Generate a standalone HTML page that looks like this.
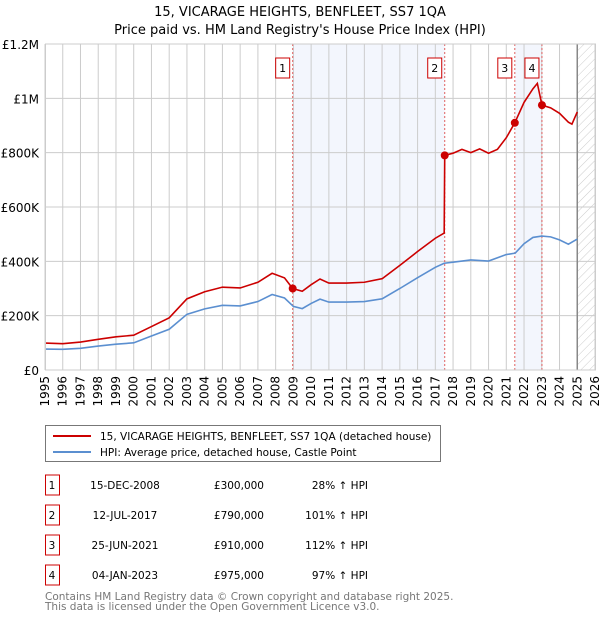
<!DOCTYPE html>
<html><head><meta charset="utf-8"><style>
body{margin:0;background:#fff;font-family:"DejaVu Sans","Liberation Sans",sans-serif}
svg text{font-family:"DejaVu Sans","Liberation Sans",sans-serif}
</style></head><body>
<svg id="c" width="600" height="620" xmlns="http://www.w3.org/2000/svg">
<defs><pattern id="hatch" width="6" height="6" patternUnits="userSpaceOnUse" patternTransform="rotate(45)"><line x1="0" y1="0" x2="0" y2="6" stroke="#ccc" stroke-width="1"/></pattern></defs>
<text x="300" y="16" text-anchor="middle" font-size="13">15, VICARAGE HEIGHTS, BENFLEET, SS7 1QA</text>
<text x="300" y="34" text-anchor="middle" font-size="13">Price paid vs. HM Land Registry's House Price Index (HPI)</text>
<g id="plot"></g>
<g>
<rect x="45.5" y="425.5" width="395" height="36" fill="#fff" stroke="#777"/>
<line x1="53" y1="436" x2="91" y2="436" stroke="#cc0000" stroke-width="2"/>
<text x="100" y="440" font-size="10.5">15, VICARAGE HEIGHTS, BENFLEET, SS7 1QA (detached house)</text>
<line x1="53" y1="452" x2="91" y2="452" stroke="#5b8fd0" stroke-width="2"/>
<text x="100" y="456" font-size="10.5">HPI: Average price, detached house, Castle Point</text>
</g>
<g id="table" font-size="10.5"></g>
<text x="45" y="600" font-size="10.5" fill="#777">Contains HM Land Registry data © Crown copyright and database right 2025.</text>
<text x="45" y="610" font-size="10.5" fill="#777">This data is licensed under the Open Government Licence v3.0.</text>
</svg>
<script>
const hpiYears=[1995,1996,1997,1998,1999,2000,2001,2002,2003,2004,2005,2006,2007,2007.8,2008.5,2009,2009.5,2010,2010.5,2011,2012,2013,2014,2015,2016,2017,2017.5,2018,2019,2020,2021,2021.5,2022,2022.5,2023,2023.5,2024,2024.5,2025];
const hpiValues=[77,76,80,88,95,100,125,150,205,225,238,236,252,278,265,234,226,245,261,250,250,252,262,300,340,378,393,397,405,401,425,430,465,488,493,490,479,463,482];
const redYears=[1995,1996,1997,1998,1999,2000,2001,2002,2003,2004,2005,2006,2007,2007.8,2008.5,2008.96,2009.5,2010,2010.5,2011,2012,2013,2014,2015,2016,2017,2017.5,2017.53,2018,2018.5,2019,2019.5,2020,2020.5,2021,2021.48,2022,2022.5,2022.75,2023.01,2023.5,2024,2024.5,2024.7,2025];
const redValues=[99,97,103,113,122,128,160,192,262,288,305,302,323,356,339,300,290,314,335,320,320,323,336,385,436,485,504,790,798,812,800,814,798,812,855,910,985,1035,1055,975,965,945,912,905,950];
const saleYears=[2008.96,2017.53,2021.48,2023.01];
const saleValues=[300,790,910,975];
const saleDates=["15-DEC-2008","12-JUL-2017","25-JUN-2021","04-JAN-2023"];
const salePrices=["£300,000","£790,000","£910,000","£975,000"];
const saleHpi=["28% ↑ HPI","101% ↑ HPI","112% ↑ HPI","97% ↑ HPI"];
const yTicks=[0,200,400,600,800,1000,1200];
const yLabels=["£0","£200K","£400K","£600K","£800K","£1M","£1.2M"];
const X0=45,X1=595,Y0=370,Y1=44;
const xs=y=>X0+(y-1995)/(2026-1995)*(X1-X0);
const ys=v=>Y0-v/1200*(Y0-Y1);
const NS="http://www.w3.org/2000/svg";
const plot=document.getElementById('plot');
function mk(tag,attrs,parent){const e=document.createElementNS(NS,tag);for(const k in attrs)e.setAttribute(k,attrs[k]);(parent||plot).appendChild(e);return e;}
[[0,1],[2,3]].forEach(p=>{const r=mk('rect',{x:xs(saleYears[p[0]]),y:Y1,width:xs(saleYears[p[1]])-xs(saleYears[p[0]]),height:Y0-Y1,fill:'#f3f6fd'});

});
const hr=mk('rect',{x:xs(2025),y:Y1,width:X1-xs(2025),height:Y0-Y1,fill:'url(#hatch)'});


for(let y=1995;y<=2026;y++){const l=mk('line',{x1:xs(y),x2:xs(y),y1:Y1,y2:Y0,stroke:'#ccc'});


const t=mk('text',{x:0,y:0,'font-size':12,transform:`translate(${xs(y)+4},${Y0+6}) rotate(-90)`,'text-anchor':'end'});t.textContent=y;

}
yTicks.forEach((v,i)=>{const l=mk('line',{x1:X0,x2:X1,y1:ys(v),y2:ys(v),stroke:'#ccc'});


const t=mk('text',{x:X0-6,y:ys(v)+5,'font-size':12,'text-anchor':'end'});t.textContent=yLabels[i];

});
const fl=mk('line',{x1:xs(2025),x2:xs(2025),y1:Y1,y2:Y0,stroke:'#888','stroke-width':1.5});


saleYears.forEach((s,i)=>{const l=mk('line',{x1:xs(s),x2:xs(s),y1:Y1,y2:Y0,stroke:'#e06060','stroke-dasharray':'2,2'});


const b=mk('rect',{x:xs(s)-17,y:58,width:14,height:20,fill:'#fff',stroke:'#cc0000'});


const t=mk('text',{x:xs(s)-10,y:72,'font-size':11,'text-anchor':'middle'});t.textContent=i+1;

});
const hp=mk('polyline',{points:hpiYears.map((y,i)=>xs(y)+','+ys(hpiValues[i])).join(' '),fill:'none',stroke:'#5b8fd0','stroke-width':1.6});


const rp=mk('polyline',{points:redYears.map((y,i)=>xs(y)+','+ys(redValues[i])).join(' '),fill:'none',stroke:'#cc0000','stroke-width':1.6});


saleYears.forEach((s,i)=>{const c=mk('circle',{cx:xs(s),cy:ys(saleValues[i]),r:4,fill:'#cc0000'});

});
const fr=mk('rect',{x:X0+0.5,y:Y1,width:X1-X0,height:Y0-Y1,fill:'none',stroke:'#ccc'});


const tb=document.getElementById('table');
saleDates.forEach((d,i)=>{const cy=483+i*30;
const b=mk('rect',{x:45.5,y:cy-8,width:14,height:20,fill:'#fff',stroke:'#cc0000'},tb);


const vals=[[52,i+1,'middle'],[125,d,'middle'],[264,salePrices[i],'end'],[368,saleHpi[i],'end']];
vals.forEach(v=>{const t=mk('text',{x:v[0],y:cy+6,'text-anchor':v[2]},tb);t.textContent=v[1];

});});
</script>
</body></html>
